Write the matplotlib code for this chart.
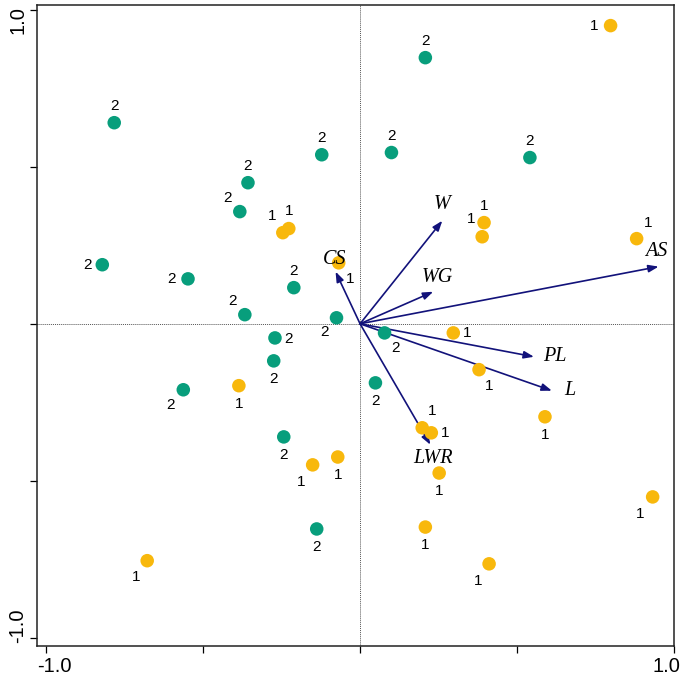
import matplotlib
matplotlib.use('Agg')
import matplotlib.pyplot as plt
import matplotlib.transforms as mtransforms
import numpy as np

# group 2 (green) sample scores
g2_x = [-0.783, -0.821, -0.548, -0.357, -0.383, -0.122, 0.100, 0.208, 0.541,
        -0.211, -0.367, -0.075, -0.271, -0.275, -0.563, 0.078, 0.049, -0.243, -0.138]
g2_y = [0.640, 0.188, 0.143, 0.449, 0.357, 0.538, 0.545, 0.847, 0.529,
        0.115, 0.029, 0.019, -0.045, -0.118, -0.210, -0.029, -0.188, -0.360, -0.653]

# group 1 (yellow) sample scores
g1_x = [0.798, 0.395, 0.389, 0.881, -0.068, -0.246, -0.227, 0.297, 0.379, 0.589,
        0.198, 0.227, 0.252, -0.071, -0.151, -0.386, 0.932, 0.208, 0.411, -0.678]
g1_y = [0.949, 0.322, 0.277, 0.271, 0.194, 0.290, 0.303, -0.029, -0.146, -0.296,
        -0.331, -0.347, -0.475, -0.424, -0.449, -0.197, -0.551, -0.647, -0.764, -0.754]

# environmental variables (arrow tips)
var_names = ['W', 'WG', 'AS', 'CS', 'PL', 'L', 'LWR']
var_x = [0.262, 0.233, 0.951, -0.078, 0.554, 0.611, 0.224]
var_y = [0.328, 0.102, 0.182, 0.166, -0.105, -0.213, -0.385]

green = '#089e7c'
yellow = '#f8b80c'
navy = '#12127a'

# label offsets (points) for the point labels
g2_off = [(0, 12), (-11, 0), (-12, 0), (0, 12), (-9, 10), (0, 12), (0, 12), (0, 12), (0, 12),
          (0, 12), (-9, 10), (-9, -10), (10, -1), (0, -13), (-9, -11), (8, -11), (0, -13), (0, -13), (0, -13)]
g1_off = [(-12, 0), (0, 12), (-8, 13), (8, 11), (8, -12), (-8, 12), (0, 13), (10, 0), (7, -12), (0, -13),
          (7, 12), (10, 0), (0, -13), (0, -13), (-8, -12), (0, -13), (-9, -12), (0, -13), (-8, -12), (-8, -12)]
var_off = [(0, 12), (3, 10), (-2, 11), (-1, 9), (15, 0), (13, 0), (2, -10)]

fig = plt.figure(figsize=(6.85, 6.81), dpi=100)
ax = fig.add_axes([37 / 685, (681 - 646) / 681, 637 / 685, 641 / 681])

ax.axhline(0, color='#555555', lw=0.7, ls=(0, (1, 1)), zorder=1)
ax.axvline(0, color='#555555', lw=0.7, ls=(0, (1, 1)), zorder=1)

for x, y in zip(var_x, var_y):
    ax.annotate('', xy=(x, y), xytext=(0, 0),
                arrowprops=dict(arrowstyle='-|>,head_length=0.6,head_width=0.22',
                                color=navy, lw=1.2, shrinkA=0, shrinkB=0), zorder=2)

ax.scatter(g2_x, g2_y, s=95, color=green, edgecolors='none', zorder=3)
ax.scatter(g1_x, g1_y, s=95, color=yellow, edgecolors='none', zorder=3)

for x, y, (dx, dy) in zip(g2_x, g2_y, g2_off):
    ax.annotate('2', (x, y), xytext=(dx, dy), textcoords='offset points',
                ha='center', va='center', fontsize=11, family='Liberation Sans', zorder=4)
for x, y, (dx, dy) in zip(g1_x, g1_y, g1_off):
    ax.annotate('1', (x, y), xytext=(dx, dy), textcoords='offset points',
                ha='center', va='center', fontsize=11, family='Liberation Sans', zorder=4)
for name, x, y, (dx, dy) in zip(var_names, var_x, var_y, var_off):
    ax.annotate(name, (x, y), xytext=(dx, dy), textcoords='offset points',
                ha='center', va='center', fontsize=14.5, style='italic',
                family='Liberation Serif', zorder=4)

ax.set_xlim(-1.029, 1.0)
ax.set_ylim(-1.0255, 1.0146)
ticks = [-1.0, -0.5, 0.0, 0.5, 1.0]
ax.set_xticks(ticks)
ax.set_yticks(ticks)
ax.set_xticklabels(['-1.0', '', '', '', '1.0'], family='Liberation Sans', fontsize=14.5)
ax.set_yticklabels(['-1.0', '', '', '', '1.0'], family='Liberation Sans', fontsize=14.5,
                   rotation=90, va='center')
ax.tick_params(length=5, width=0.9, direction='out', pad=3)
ax.tick_params(axis='y', pad=2)
for s in ax.spines.values():
    s.set_linewidth(1.1)
    s.set_color('#222222')

# tick labels sit a bit inward of the end ticks
xl = ax.get_xticklabels()
yl = ax.get_yticklabels()
xl[0].set_transform(xl[0].get_transform() + mtransforms.ScaledTranslation(8 / 100, 0, fig.dpi_scale_trans))
xl[-1].set_transform(xl[-1].get_transform() + mtransforms.ScaledTranslation(-8 / 100, 0, fig.dpi_scale_trans))
yl[0].set_transform(yl[0].get_transform() + mtransforms.ScaledTranslation(0, 12 / 100, fig.dpi_scale_trans))
yl[-1].set_transform(yl[-1].get_transform() + mtransforms.ScaledTranslation(0, -10 / 100, fig.dpi_scale_trans))

fig.savefig('out.png', dpi=100)
